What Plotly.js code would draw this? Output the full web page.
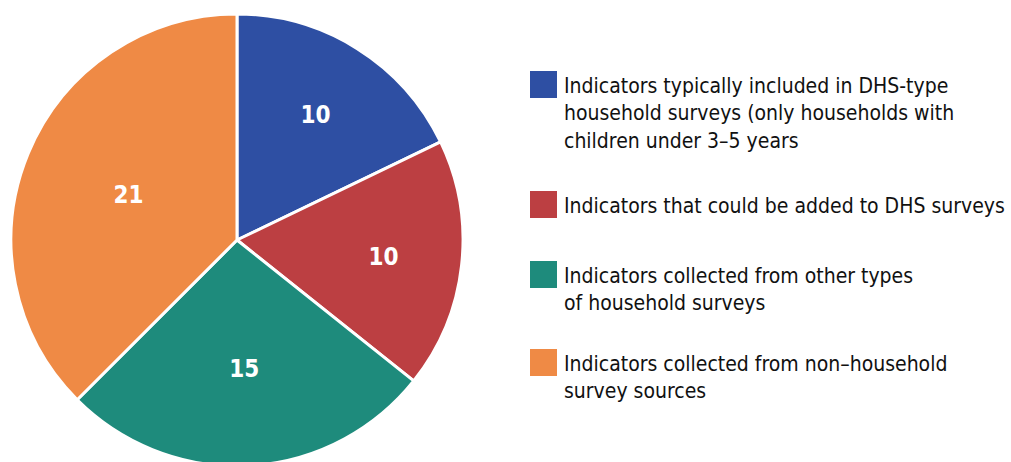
<!DOCTYPE html>
<html><head><meta charset="utf-8">
<script src="https://cdn.plot.ly/plotly-3.0.1.min.js"></script>
<style>html,body{margin:0;padding:0;overflow:hidden;background:#fff}#chart{width:1011px;height:480px}</style>
</head><body><div id="chart"></div>
<script>
var categories = [
  "Indicators typically included in DHS-type<br>household surveys (only households with<br>children under 3\u20135 years",
  "Indicators that could be added to DHS surveys",
  "Indicators collected from other types<br>of household surveys",
  "Indicators collected from non\u2013household<br>survey sources"
];
var values = [10, 10, 15, 21];
var colors = ["#2E4FA3", "#BC3F42", "#1E8B7C", "#EF8A45"];
var legendTop = [71, 191, 261, 349];

var W = 1011, H = 480;
var FONT = "'DejaVu Sans Condensed', 'Liberation Sans Narrow', Arial, sans-serif";

var shapes = [], annotations = [];
for (var i = 0; i < categories.length; i++) {
  shapes.push({type:'rect', xref:'paper', yref:'paper',
    x0:530/W, x1:557/W, y0:1-legendTop[i]/H, y1:1-(legendTop[i]+27)/H,
    fillcolor:colors[i], line:{width:0}});
  annotations.push({xref:'paper', yref:'paper', x:562/W, y:1-(legendTop[i]+1)/H,
    xanchor:'left', yanchor:'top', align:'left', showarrow:false,
    text:categories[i], font:{family:FONT, size:21, color:'#111'}});
}

var trace = {
  type:'pie', values:values, labels:categories, sort:false, direction:'clockwise',
  rotation:0, marker:{colors:colors, line:{color:'#fff', width:3}},
  textinfo:'value', textposition:'inside', insidetextorientation:'horizontal',
  insidetextfont:{family:FONT, size:24, color:'#fff', weight:'bold'},
  domain:{x:[11/W, 463/W], y:[(H-466)/H, (H-14)/H]},
  hoverinfo:'none', showlegend:false
};

Plotly.newPlot('chart', [trace], {
  width:W, height:H, margin:{l:0,r:0,t:0,b:0},
  paper_bgcolor:'#fff', showlegend:false,
  shapes:shapes, annotations:annotations
}, {displayModeBar:false, staticPlot:true});
</script></body></html>
